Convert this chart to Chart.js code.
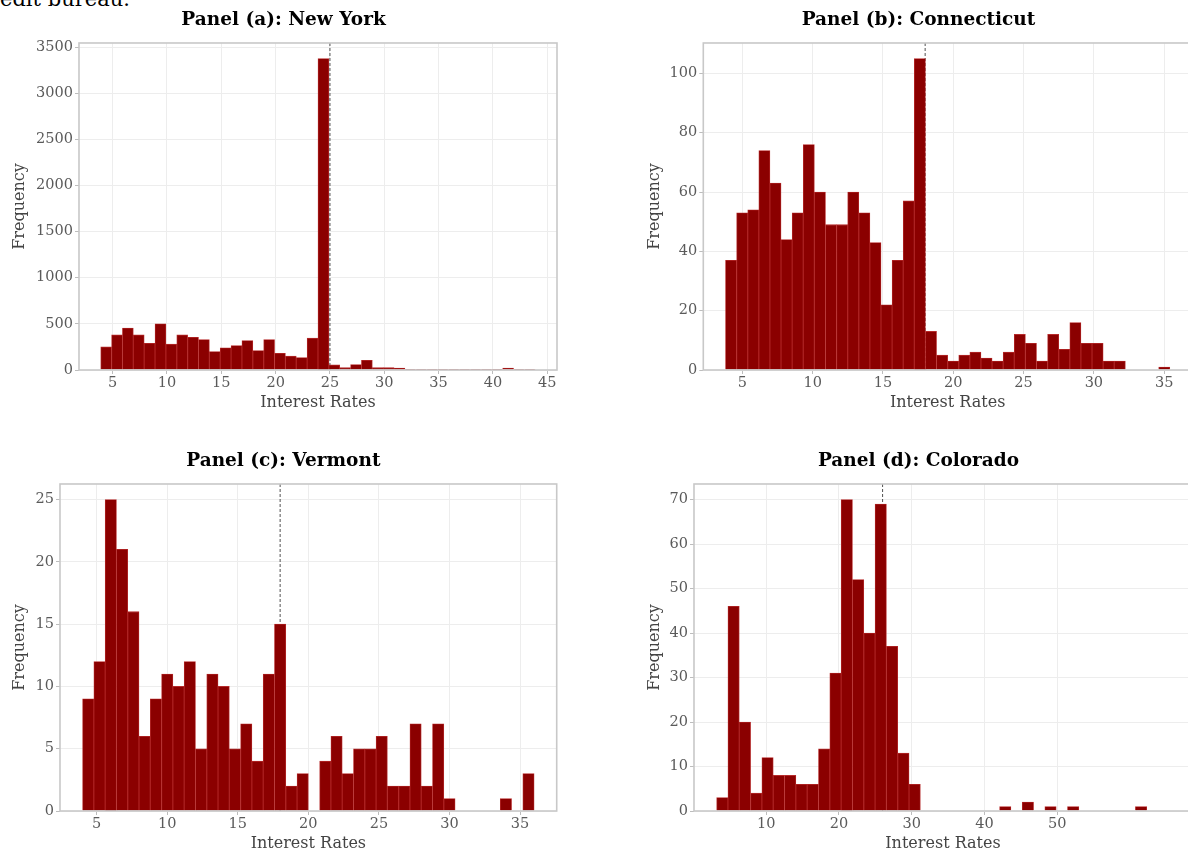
<!DOCTYPE html>
<html>
<head>
<meta charset="utf-8">
<script src="https://cdn.jsdelivr.net/npm/chart.js@4.4.1/dist/chart.umd.min.js"></script>
<style>
	html, body { margin: 0; padding: 0; background: #fff; overflow: hidden; }
	body { width: 1188px; height: 861px; position: relative; }
	canvas { position: absolute; }
	.lead { position: absolute; left: 0; top: -11px; font: 21px/20px "DejaVu Serif", serif; color: #000; white-space: nowrap; }
</style>
</head>
<body>
<div class="lead">edit bureau.</div>
<canvas id="ny" width="580" height="420" style="left:0;top:0"></canvas>
<canvas id="ct" width="572" height="420" style="left:620px;top:0"></canvas>
<canvas id="vt" width="580" height="420" style="left:0;top:441px"></canvas>
<canvas id="co" width="572" height="420" style="left:620px;top:441px"></canvas>
<script>
// Histogram counts, 40 bins per state
const nyCounts = [250, 380, 455, 380, 290, 500, 280, 380, 355, 330, 200, 240, 265, 320, 210, 330, 180, 150, 135, 345,
	3375, 55, 25, 60, 105, 25, 25, 20, 4, 3, 2, 2, 1, 2, 1, 1, 2, 20, 1, 1];
const ctCounts = [37, 53, 54, 74, 63, 44, 53, 76, 60, 49, 49, 60, 53, 43, 22, 37, 57, 105, 13, 5,
	3, 5, 6, 4, 3, 6, 12, 9, 3, 12, 7, 16, 9, 9, 3, 3, 0, 0, 0, 1];
const vtCounts = [9, 12, 25, 21, 16, 6, 9, 11, 10, 12, 5, 11, 10, 5, 7, 4, 11, 15, 2, 3,
	0, 4, 6, 3, 5, 5, 6, 2, 2, 7, 2, 7, 1, 0, 0, 0, 0, 1, 0, 3];
const coCounts = [3, 46, 20, 4, 12, 8, 8, 6, 6, 14, 31, 70, 52, 40, 69, 37, 13, 6, 0, 0,
	0, 0, 0, 0, 0, 1, 0, 2, 0, 1, 0, 1, 0, 0, 0, 0, 0, 1, 0, 0];

// Bin edges: [first edge, bin width]
const nyBins = [3.9, 1.0];
const ctBins = [3.8, 0.79];
const vtBins = [4.0, 0.8];
const coBins = [3.2, 1.555];

// Rate cap marked with a dashed line
const nyCap = 25;
const ctCap = 18;
const vtCap = 18;
const coCap = 26;

// Tick labels
const nyXTicks = [5, 10, 15, 20, 25, 30, 35, 40, 45];
const nyYTicks = [0, 500, 1000, 1500, 2000, 2500, 3000, 3500];
const ctXTicks = [5, 10, 15, 20, 25, 30, 35];
const ctYTicks = [0, 20, 40, 60, 80, 100];
const vtXTicks = [5, 10, 15, 20, 25, 30, 35];
const vtYTicks = [0, 5, 10, 15, 20, 25];
const coXTicks = [10, 20, 30, 40, 50];
const coYTicks = [0, 10, 20, 30, 40, 50, 60, 70];

const tickFont = { family: "DejaVu Serif", size: 14.5 };
const axisFont = { family: "DejaVu Serif", size: 16 };

// Cap line behind the bars, grey box around the plot area
const frame = {
	id: "frame",
	beforeDatasetsDraw(chart, args, opts) {
		const { ctx, chartArea: a, scales } = chart;
		const px = scales.x.getPixelForValue(opts.cap);
		ctx.save();
		ctx.strokeStyle = "rgba(50,50,50,0.85)";
		ctx.lineWidth = 1;
		ctx.setLineDash([3, 2]);
		ctx.beginPath();
		ctx.moveTo(px, a.top);
		ctx.lineTo(px, a.bottom);
		ctx.stroke();
		ctx.restore();
	},
	afterDatasetsDraw(chart) {
		const { ctx, chartArea: a } = chart;
		ctx.save();
		ctx.strokeStyle = "#c8c8c8";
		ctx.lineWidth = 1.6;
		ctx.strokeRect(a.left, a.top, a.right - a.left, a.bottom - a.top);
		ctx.restore();
	},
};

function histogram(id, title, counts, bins, cap, xTicks, yTicks, padLeft, padRight, yWidth) {
	const start = bins[0];
	const width = bins[1];
	const span = counts.length * width;
	const points = counts.map((c, i) => ({ x: start + (i + 0.5) * width, y: c }));

	return new Chart(document.getElementById(id), {
		type: "bar",
		data: {
			datasets: [
				{
					data: points,
					backgroundColor: "#8b0000",
					borderColor: "#b62a2a",
					borderWidth: 0.8,
					borderSkipped: "start",
					categoryPercentage: 1,
					barPercentage: 1,
				},
			],
		},
		plugins: [frame],
		options: {
			responsive: false,
			animation: false,
			layout: { padding: { left: padLeft, right: padRight, top: 0, bottom: 0 } },
			plugins: {
				legend: { display: false },
				tooltip: { enabled: false },
				frame: { cap: cap },
				title: {
					display: true,
					text: title,
					color: "#000",
					font: { family: "DejaVu Serif", size: 18.5, weight: "bold" },
					padding: { top: 9, bottom: 11.8 },
				},
			},
			scales: {
				x: {
					type: "linear",
					bounds: "data",
					min: start - 0.05 * span,
					max: start + 1.05 * span,
					offset: false,
					afterBuildTicks: (s) => {
						s.ticks = xTicks.map((v) => ({ value: v }));
					},
					afterFit: (s) => {
						s.height = 50;
					},
					border: { display: false },
					grid: { color: "#ededed", tickColor: "#bdbdbd", tickLength: 4, offset: false },
					ticks: {
						autoSkip: false,
						maxRotation: 0,
						padding: 1,
						color: "#5a5a5a",
						font: tickFont,
						callback: (v) => String(v),
					},
					title: {
						display: true,
						text: "Interest Rates",
						color: "#444",
						font: axisFont,
						padding: { top: 0, bottom: 7.4 },
					},
				},
				y: {
					bounds: "data",
					min: 0,
					max: Math.max(...counts) * 1.05,
					afterBuildTicks: (s) => {
						s.ticks = yTicks.map((v) => ({ value: v }));
					},
					afterFit: (s) => {
						s.width = yWidth;
					},
					border: { display: false },
					grid: { color: "#ededed", tickColor: "#bdbdbd", tickLength: 4 },
					ticks: {
						padding: 2,
						color: "#5a5a5a",
						font: tickFont,
						callback: (v) => String(v),
					},
					title: {
						display: true,
						text: "Frequency",
						color: "#444",
						font: axisFont,
						padding: { top: 0, bottom: 0 },
					},
				},
			},
		},
	});
}

histogram("ny", "Panel (a): New York", nyCounts, nyBins, nyCap, nyXTicks, nyYTicks, 10, 23, 69);
histogram("ct", "Panel (b): Connecticut", ctCounts, ctBins, ctCap, ctXTicks, ctYTicks, 25, 0, 58.3);
histogram("vt", "Panel (c): Vermont", vtCounts, vtBins, vtCap, vtXTicks, vtYTicks, 10, 23.3, 50);
histogram("co", "Panel (d): Colorado", coCounts, coBins, coCap, coXTicks, coYTicks, 25, 0, 49);
</script>
</body>
</html>
